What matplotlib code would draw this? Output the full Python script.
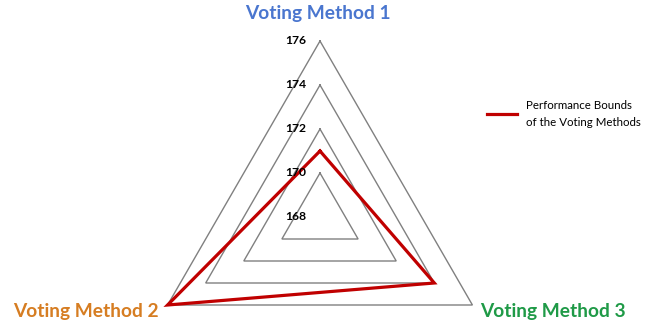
import numpy as np
import matplotlib
matplotlib.use("Agg")
import matplotlib.pyplot as plt

plt.rcParams["font.family"] = ["Lato", "DejaVu Sans"]

# data
methods = ["Voting Method 1", "Voting Method 2", "Voting Method 3"]
bounds = [171, 176, 174]
grid_levels = [168, 170, 172, 174, 176]
method_colors = ["#4a76cf", "#d67d22", "#1f9a47"]

R_MIN = 168
W, H = 647, 327
CX, CY, SCALE = 320, 217, 22.0  # centre pixel and px per unit

angles = np.deg2rad([90, 210, 330])


def to_xy(values):
    r = np.asarray(values, dtype=float) - R_MIN
    x = r * np.cos(angles)
    y = r * np.sin(angles)
    # close the polygon
    return np.append(x, x[0]), np.append(y, y[0])


fig = plt.figure(figsize=(W / 100, H / 100), dpi=100)
ax = fig.add_axes([0, 0, 1, 1])
ax.set_xlim(-CX / SCALE, (W - CX) / SCALE)
ax.set_ylim((CY - H) / SCALE, CY / SCALE)
ax.axis("off")

# grid triangles
for lvl in grid_levels:
    if lvl == R_MIN:
        continue
    x, y = to_xy([lvl] * 3)
    ax.plot(x, y, color="#808080", lw=1.0, solid_joinstyle="miter", zorder=1)

# level labels along the top axis
for lvl in grid_levels:
    ax.text(-14 / SCALE, lvl - R_MIN, str(lvl), ha="right", va="center",
            fontsize=8.7, fontweight="bold", color="black", zorder=3)

# bounds polygon
x, y = to_xy(bounds)
ax.plot(x, y, color="#c00000", lw=2.3, solid_joinstyle="miter",
        label="Performance Bounds\nof the Voting Methods", zorder=2)

# axis names
label_pos = [(318, 14), (86, 312), (553, 312)]
for name, col, (px, py) in zip(methods, method_colors, label_pos):
    ax.text((px - CX) / SCALE, (CY - py) / SCALE, name, ha="center", va="center",
            fontsize=13.8, fontweight="bold", color=col)

leg = ax.legend(loc="center left", bbox_to_anchor=(487 / W, 1 - 114 / H),
                frameon=False, fontsize=8.3, handlelength=2.6, handletextpad=0.75,
                borderpad=0, borderaxespad=0)
for t in leg.get_texts():
    t.set_linespacing(1.75)

fig.savefig("out.png", dpi=100)
